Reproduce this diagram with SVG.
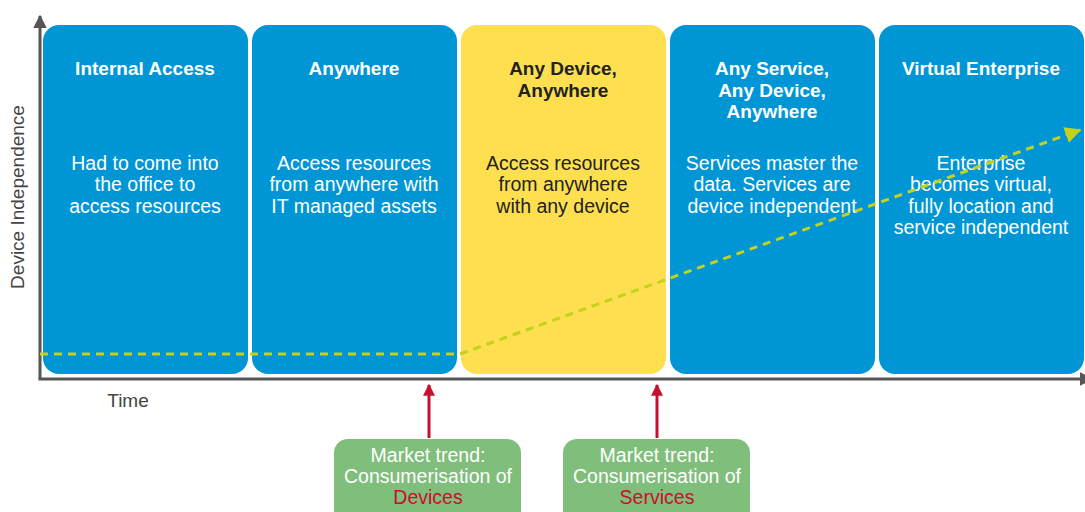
<svg xmlns="http://www.w3.org/2000/svg" width="1085" height="512" viewBox="0 0 1085 512">
<defs>
<style>
.box{fill:#0096D6}
.yel{fill:#FEDF4F}
.grn{fill:#7FBE7B}
.t{font-family:"Liberation Sans",Arial,sans-serif;font-size:19.5px;text-anchor:middle}
.b{font-weight:bold;font-size:19px}
.w{fill:#ffffff}
.d{fill:#222222}
.ax{stroke:#555555;stroke-width:3;fill:none}
.lbl{font-family:"Liberation Sans",Arial,sans-serif;font-size:19px;fill:#444444}
.red{stroke:#C8102E;stroke-width:3;fill:none}
.trend{stroke:#C3D21C;stroke-width:3;fill:none;stroke-dasharray:8,6}
</style>
<marker id="axh" viewBox="0 0 10 10" refX="9" refY="5" markerWidth="4.5" markerHeight="4.5" orient="auto" markerUnits="strokeWidth"><path d="M0,0 L10,5 L0,10 z" fill="#555555"/></marker>
<marker id="redh" viewBox="0 0 10 10" refX="9" refY="5" markerWidth="4" markerHeight="4" orient="auto" markerUnits="strokeWidth"><path d="M0,0 L10,5 L0,10 z" fill="#C8102E"/></marker>
<marker id="trh" viewBox="0 0 10 10" refX="9" refY="5" markerWidth="5.5" markerHeight="5.5" orient="auto" markerUnits="strokeWidth"><path d="M0,0 L10,5 L0,10 z" fill="#C3D21C"/></marker>
</defs>

<g id="node-internal-access">
<rect class="box" x="43" y="25" width="205" height="349" rx="16"/>
<text class="t b w" x="145" y="75">Internal Access</text>
<text class="t w" x="145" y="170">Had to come into</text>
<text class="t w" x="145" y="191">the office to</text>
<text class="t w" x="145" y="213">access resources</text>
</g>
<g id="node-anywhere">
<rect class="box" x="252" y="25" width="205" height="349" rx="16"/>
<text class="t b w" x="354" y="75">Anywhere</text>
<text class="t w" x="354" y="170">Access resources</text>
<text class="t w" x="354" y="191">from anywhere with</text>
<text class="t w" x="354" y="213">IT managed assets</text>
</g>
<g id="node-any-device">
<rect class="yel" x="461" y="25" width="205" height="349" rx="16"/>
<text class="t b d" x="563" y="75">Any Device,</text>
<text class="t b d" x="563" y="97">Anywhere</text>
<text class="t d" x="563" y="170">Access resources</text>
<text class="t d" x="563" y="191">from anywhere</text>
<text class="t d" x="563" y="213">with any device</text>
</g>
<g id="node-any-service">
<rect class="box" x="670" y="25" width="205" height="349" rx="16"/>
<text class="t b w" x="772" y="75">Any Service,</text>
<text class="t b w" x="772" y="97">Any Device,</text>
<text class="t b w" x="772" y="118">Anywhere</text>
<text class="t w" x="772" y="170">Services master the</text>
<text class="t w" x="772" y="191">data. Services are</text>
<text class="t w" x="772" y="213">device independent</text>
</g>
<g id="node-virtual-enterprise">
<rect class="box" x="879" y="25" width="205" height="349" rx="16"/>
<text class="t b w" x="981" y="75">Virtual Enterprise</text>
<text class="t w" x="981" y="170">Enterprise</text>
<text class="t w" x="981" y="191">becomes virtual,</text>
<text class="t w" x="981" y="213">fully location and</text>
<text class="t w" x="981" y="234">service independent</text>
</g>

<g id="axes">
<path class="ax" d="M40,379 L40,16" marker-end="url(#axh)"/>
<path class="ax" d="M38.5,379 L1092,379" marker-end="url(#axh)"/>
<text class="lbl" x="0" y="0" text-anchor="middle" transform="translate(24,197) rotate(-90)">Device Independence</text>
<text class="lbl" x="128" y="407" text-anchor="middle">Time</text>
</g>

<g id="connectors">
<path class="trend" d="M40,354 L460,354 L1080,130" marker-end="url(#trh)"/>
<path class="red" d="M429,438 L429,385" marker-end="url(#redh)"/>
<path class="red" d="M657,438 L657,385" marker-end="url(#redh)"/>
</g>

<g id="node-trend-devices">
<rect class="grn" x="334" y="439" width="187" height="90" rx="14"/>
<text class="t w" x="428" y="462">Market trend:</text>
<text class="t w" x="428" y="483">Consumerisation of</text>
<text class="t" x="428" y="504" fill="#C8102E">Devices</text>
</g>
<g id="node-trend-services">
<rect class="grn" x="563" y="439" width="187" height="90" rx="14"/>
<text class="t w" x="657" y="462">Market trend:</text>
<text class="t w" x="657" y="483">Consumerisation of</text>
<text class="t" x="657" y="504" fill="#C8102E">Services</text>
</g>
</svg>
